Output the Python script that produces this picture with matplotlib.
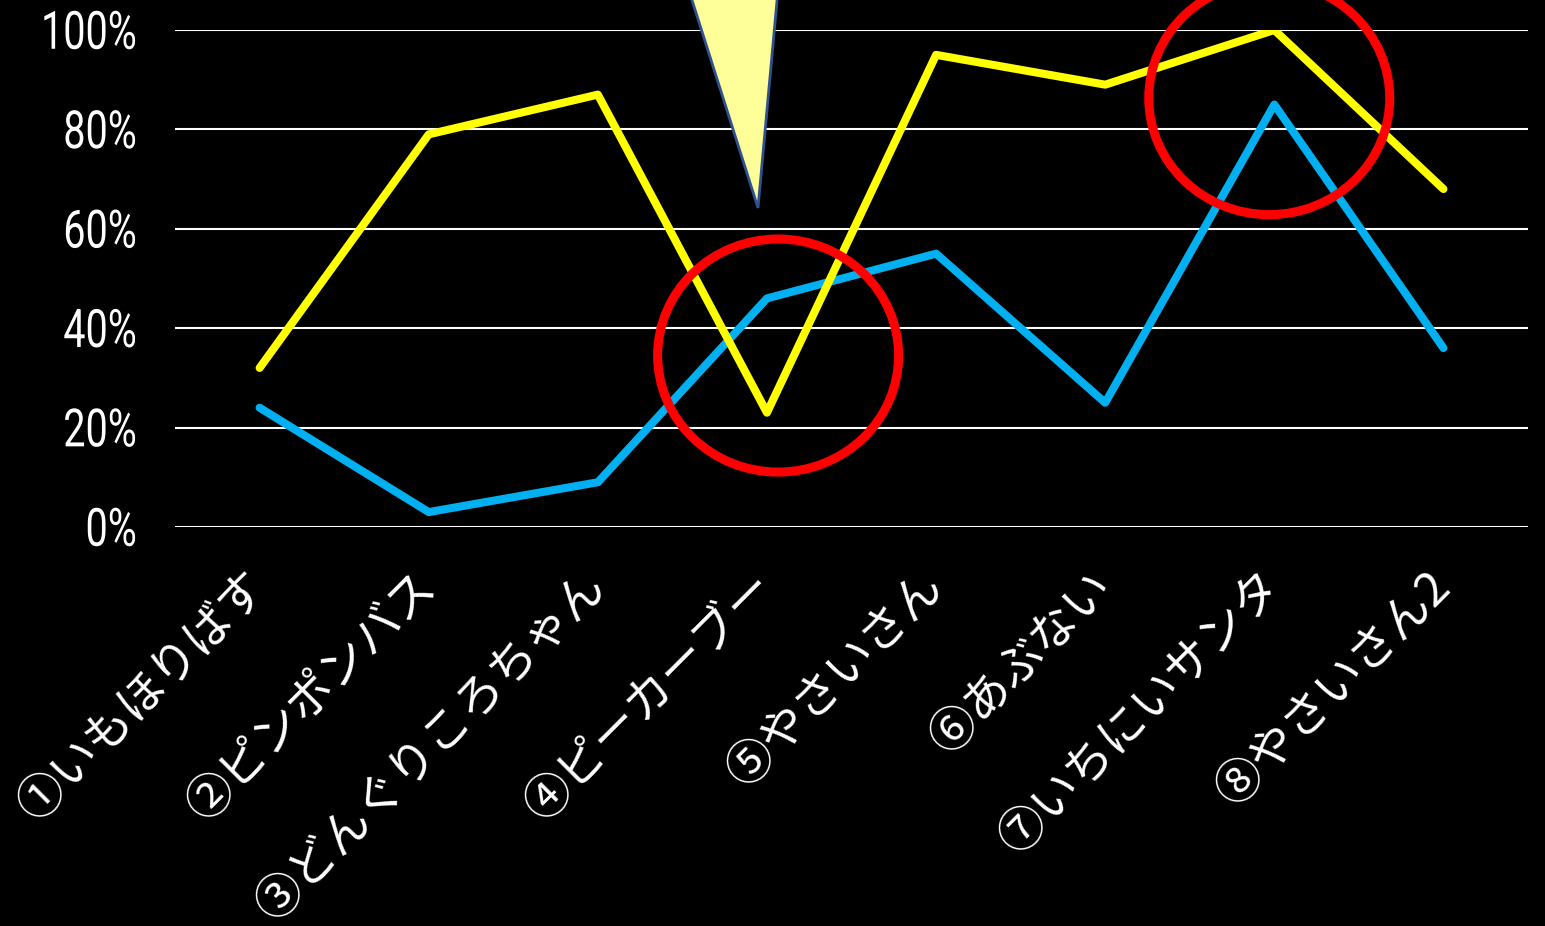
import numpy as np
import matplotlib
matplotlib.use("Agg")
import matplotlib.pyplot as plt
from matplotlib.patches import Ellipse, Polygon, PathPatch
from matplotlib.textpath import TextPath
from matplotlib.font_manager import FontProperties
from matplotlib.transforms import Affine2D, ScaledTranslation, blended_transform_factory

# データ
categories = ["①いもほりばす", "②ピンポンバス", "③どんぐりころちゃん", "④ピーカーブー",
              "⑤やさいさん", "⑥あぶない", "⑦いちにいサンタ", "⑧やさいさん2"]
yellow_vals = [32, 79, 87, 23, 95, 89, 100, 68]
blue_vals = [24, 3, 9, 46, 55, 25, 85, 36]
yticks = [0, 20, 40, 60, 80, 100]
ytick_labels = ["0%", "20%", "40%", "60%", "80%", "100%"]

fig = plt.figure(figsize=(15.45, 9.26), dpi=100, facecolor="black")
ax = fig.add_axes([0.1133, 0.4309, 0.8757, 0.5367], facecolor="black")

x = np.arange(len(categories))
ax.plot(x, blue_vals, color="#00B0F0", lw=5.8, solid_capstyle="round", zorder=3)
ax.plot(x, yellow_vals, color="#FFFF00", lw=5.8, solid_capstyle="round", zorder=4)

ax.set_xlim(-0.5, len(categories) - 0.5)
ax.set_ylim(0, 100)
ax.set_yticks(yticks)
ax.set_yticklabels([])
ax.grid(axis="y", color="white", lw=1.5, zorder=1)
ax.set_axisbelow(True)
for s in ax.spines.values():
    s.set_visible(False)
ax.tick_params(axis="y", length=0)

# 縦軸ラベル (細長いフォントの代わりに横方向を縮める)
fp = FontProperties(family=["Roboto", "DejaVu Sans"])
ytrans = blended_transform_factory(ax.transAxes, ax.transData)
for v, lab in zip(yticks, ytick_labels):
    tp = TextPath((0, 0), lab, size=38, prop=fp)
    ext = tp.get_extents()
    tr = (Affine2D().translate(-ext.x1, -(ext.y0 + ext.y1) / 2).scale(0.75 / 72, 1 / 72)
          + fig.dpi_scale_trans
          + Affine2D().translate(-40, 0)
          + ScaledTranslation(0, v, ytrans))
    ax.add_patch(PathPatch(tp, facecolor="white", edgecolor="none", transform=tr,
                           clip_on=False))

ax.set_xticks(x)
ax.set_xticklabels(categories, rotation=45, ha="right", va="center",
                   rotation_mode="anchor", fontsize=34, color="white",
                   family=["Noto Sans CJK JP", "DejaVu Sans"])
ax.tick_params(axis="x", length=0, pad=38)

# 吹き出しの三角
tri = Polygon([(2.538, 108), (3.065, 108), (2.947, 64.2)], closed=True,
              facecolor="#FFFF99", edgecolor="#2F528F", lw=2, zorder=5, clip_on=False)
ax.add_patch(tri)

# 赤い丸
for cx, cy in [(3.066, 34.5), (5.97, 86.3)]:
    e = Ellipse((cx, cy), 1.425, 46.9, fill=False, edgecolor="#FF0000", lw=6.5,
                zorder=6, clip_on=False)
    ax.add_patch(e)

fig.savefig("out.png", dpi=100, facecolor="black")
